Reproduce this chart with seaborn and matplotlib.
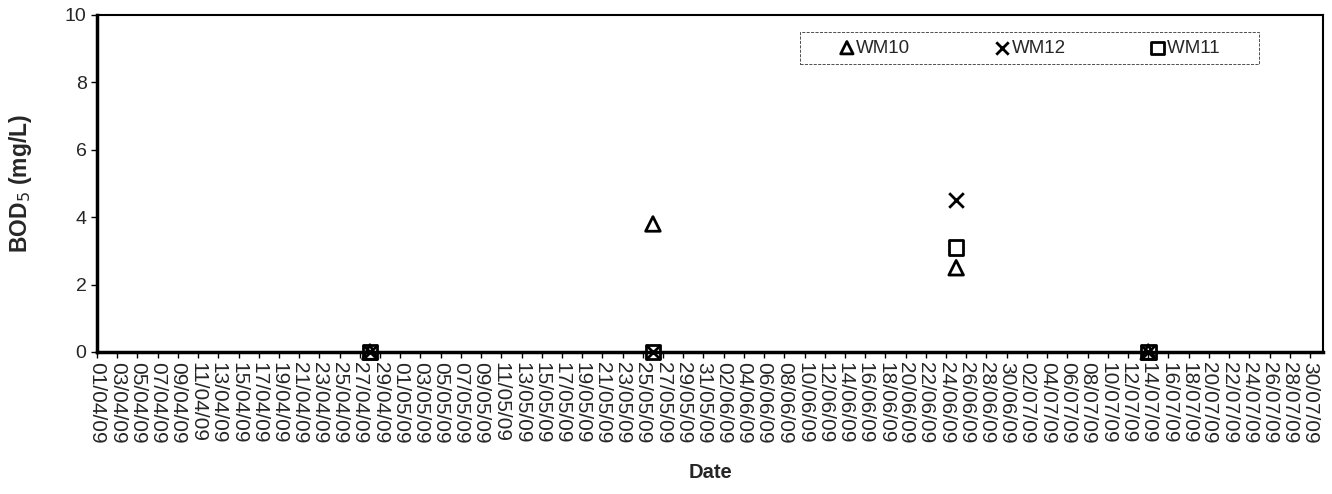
import warnings
warnings.filterwarnings("ignore")

import pandas as pd
import numpy as np
import matplotlib
matplotlib.use("Agg")
import matplotlib.pyplot as plt
import matplotlib.dates as mdates
import seaborn as sns

# data
dates = ["28/04/09", "26/05/09", "25/06/09", "14/07/09"]
wm10 = [0, 3.8, 2.5, 0]
wm12 = [0, 0, 4.5, 0]
wm11 = [0, 0, 3.1, 0]

sns.set_style("white")
plt.rcParams['font.family'] = ['Liberation Sans', 'DejaVu Sans']

df = pd.DataFrame({
    'Date': pd.to_datetime(dates, format="%d/%m/%y"),
    'WM10': wm10,
    'WM12': wm12,
    'WM11': wm11,
})

fig = plt.figure(figsize=(13.32, 4.94), dpi=100)
ax = fig.add_axes([97 / 1332, 1 - 352 / 494, (1323 - 97) / 1332, (352 - 15) / 494])

# triangles, crosses and squares (separate calls, seaborn can't mix filled/line markers)
sns.scatterplot(data=df, x='Date', y='WM10', marker='^', s=110, facecolor='none',
                edgecolor='black', linewidth=2, ax=ax, label='WM10', zorder=3, clip_on=False)
sns.scatterplot(data=df, x='Date', y='WM12', marker='x', s=110, color='black',
                linewidth=2, ax=ax, label='WM12', zorder=3, clip_on=False)
sns.scatterplot(data=df, x='Date', y='WM11', marker='s', s=110, facecolor='none',
                edgecolor='black', linewidth=2, ax=ax, label='WM11', zorder=3, clip_on=False)

start = pd.Timestamp('2009-04-01')
ax.set_xlim(start, pd.Timestamp('2009-07-31 07:00'))
ax.set_ylim(0, 10)
ax.set_yticks(np.arange(0, 11, 2))

ticks = pd.date_range('2009-04-01', '2009-07-30', freq='2D')
ax.set_xticks(ticks)
ax.xaxis.set_major_formatter(mdates.DateFormatter('%d/%m/%y'))
plt.setp(ax.get_xticklabels(), rotation=-90, fontsize=15)
plt.setp(ax.get_yticklabels(), fontsize=14)
ax.tick_params(axis='both', direction='out', length=4, width=1, color='black', left=True, bottom=True)

for sp in ax.spines.values():
    sp.set_color('black')
    sp.set_linewidth(1.5)
ax.spines['left'].set_linewidth(2.5)
ax.spines['bottom'].set_linewidth(2.5)

ax.set_xlabel('Date', fontsize=14.5, fontweight='bold')
ax.set_ylabel('BOD$_5$ (mg/L)', fontsize=16.5, fontweight='bold', labelpad=22)
ax.xaxis.set_label_coords(0.5, -0.33)

# legend: marker sits close to its text, wide padding at both ends like the original
leg = ax.legend(loc='upper left', ncol=3, fontsize=13.5, frameon=True, fancybox=False,
                handletextpad=-1.6, handlelength=4.2, columnspacing=2.8, borderpad=0.4,
                borderaxespad=0, markerscale=0.85,
                labels=['WM10', 'WM12', 'WM11      '])
leg.set_bbox_to_anchor(((800 - 97) / (1323 - 97), 1 - (32 - 15) / (352 - 15)), transform=ax.transAxes)
frame = leg.get_frame()
frame.set_edgecolor('black')
frame.set_linewidth(0.6)
frame.set_linestyle('--')

fig.savefig('out.png', dpi=100)
